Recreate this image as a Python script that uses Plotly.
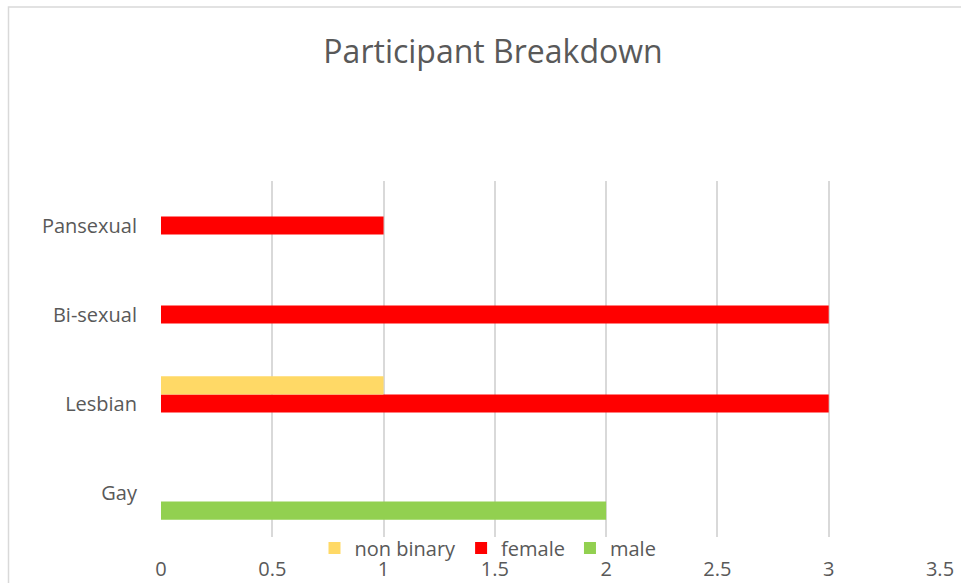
import plotly.graph_objects as go

categories = ["Gay", "Lesbian", "Bi-sexual", "Pansexual"]
male = [2, None, None, None]
female = [None, 3, 3, 1]
non_binary = [None, 1, None, None]
x_ticks = [0, 0.5, 1, 1.5, 2, 2.5, 3, 3.5]
x_tick_labels = ["0", "0.5", "1", "1.5", "2", "2.5", "3", "3.5"]

FONT = "Open Sans"
GREY = "#595959"

fig = go.Figure()
fig.add_trace(go.Bar(y=categories, x=male, name="male", orientation="h",
                     marker=dict(color="#92D050", line=dict(width=0))))
fig.add_trace(go.Bar(y=categories, x=female, name="female", orientation="h",
                     marker=dict(color="#FF0000", line=dict(width=0))))
fig.add_trace(go.Bar(y=categories, x=non_binary, name="non binary", orientation="h",
                     marker=dict(color="#FFD966", line=dict(width=0))))

W, H = 961, 583
L, R, T, B = 161, 21, 181, 46
pw, ph = W - L - R, H - T - B

fig.update_layout(
    width=W, height=H,
    margin=dict(l=L, r=R, t=T, b=B, autoexpand=False),
    paper_bgcolor="white", plot_bgcolor="white",
    barmode="group", bargap=0.39, bargroupgap=0,
    title=dict(text="Participant Breakdown", x=493 / W, xanchor="center",
               y=1 - 52 / H, yanchor="middle",
               font=dict(family=FONT, size=32, color=GREY)),
    font=dict(family=FONT, size=20, color=GREY),
    showlegend=True,
    legend=dict(orientation="h", traceorder="reversed",
                x=(488 - L) / pw, xanchor="center",
                y=(ph - (548 - T)) / ph, yanchor="middle",
                bgcolor="rgba(0,0,0,0)",
                font=dict(family=FONT, size=20, color=GREY),
                itemwidth=30, tracegroupgap=0),
    xaxis=dict(range=[0, 3.5], tickvals=x_ticks, ticktext=x_tick_labels,
               showgrid=True, gridcolor="#D9D9D9", gridwidth=2,
               zeroline=False, showline=False, ticks="",
               ticklabelstandoff=18,
               tickfont=dict(family=FONT, size=20, color=GREY)),
    yaxis=dict(categoryorder="array", categoryarray=categories,
               showgrid=False, zeroline=False, showline=False, ticks="",
               ticklabelstandoff=23,
               tickfont=dict(family=FONT, size=20, color=GREY)),
    shapes=[dict(type="rect", xref="paper", yref="paper",
                 x0=(8.5 - L) / pw, x1=(W + 5 - L) / pw,
                 y0=(ph - (H + 5 - T)) / ph, y1=(ph - (7 - T)) / ph,
                 line=dict(color="#D9D9D9", width=1.5), layer="below")],
)

fig.write_html("out.html", config={"displayModeBar": False},
               post_script="document.body.style.margin='0';document.body.style.overflow='hidden';")
